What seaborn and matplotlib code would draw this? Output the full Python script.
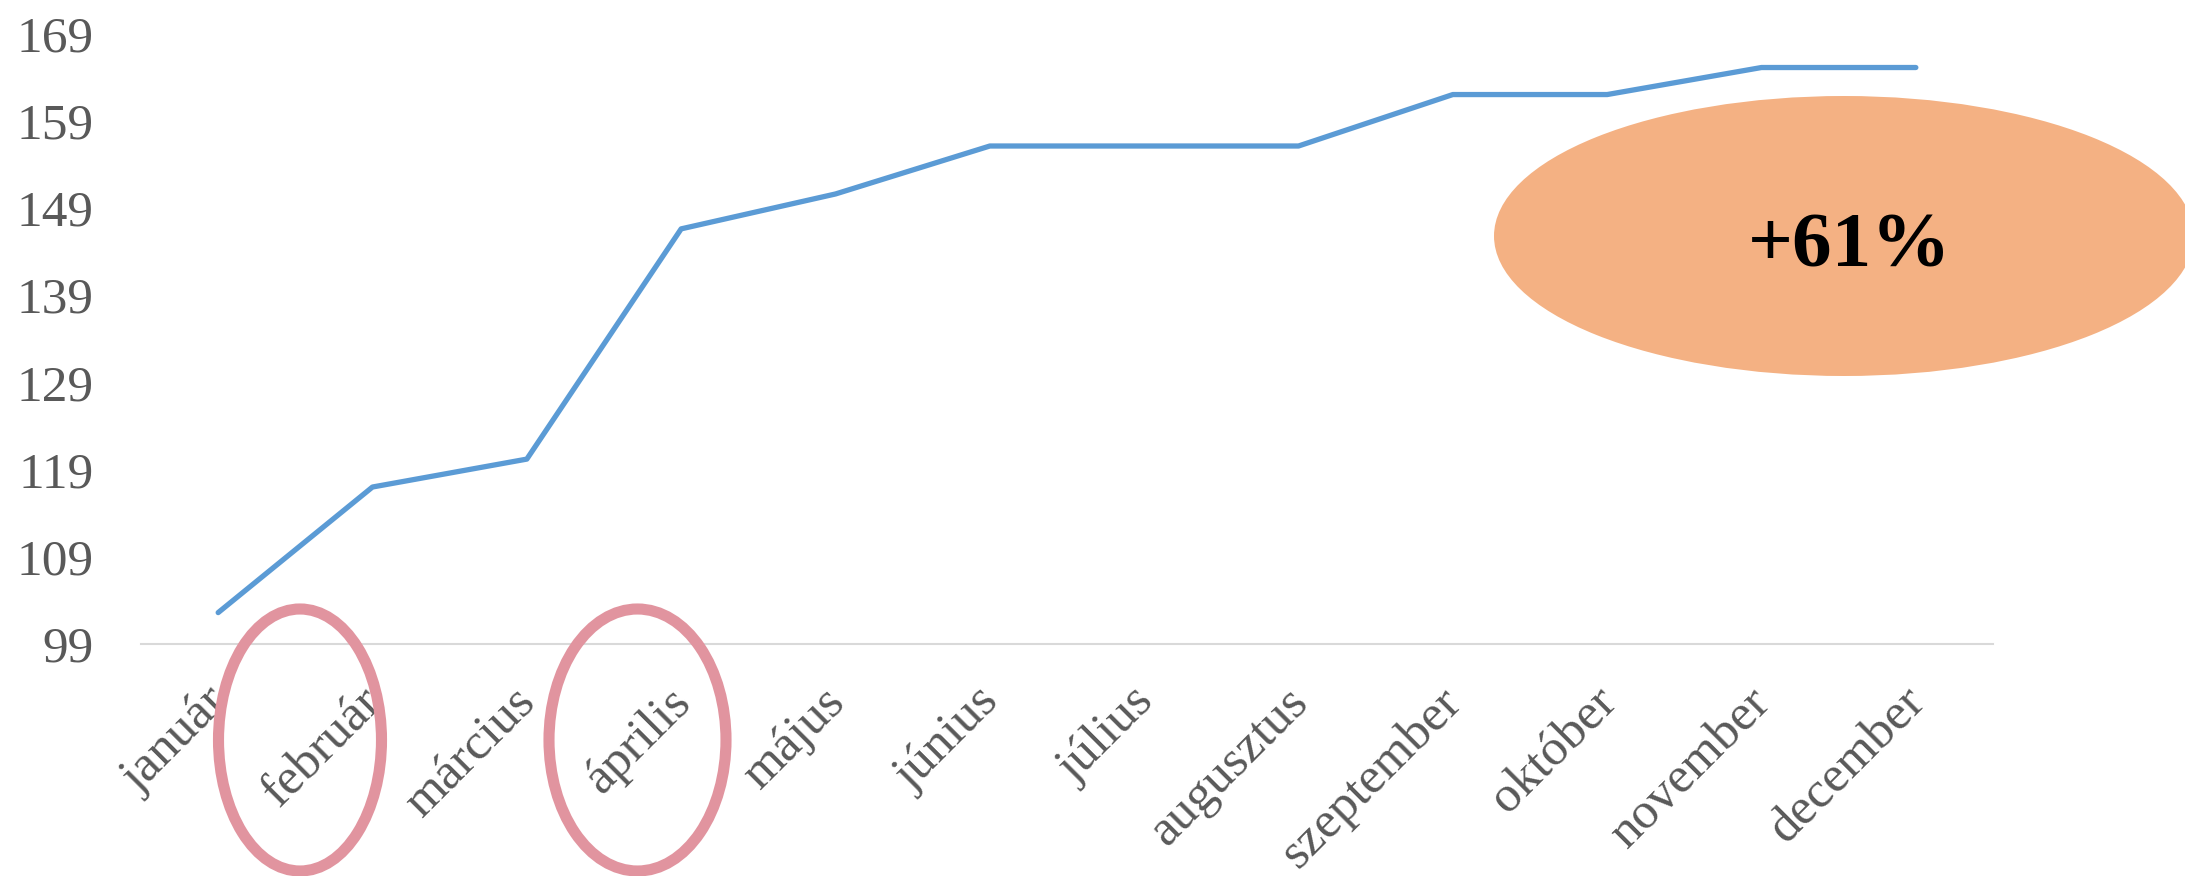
import matplotlib
matplotlib.use("Agg")
import matplotlib.pyplot as plt
import matplotlib.transforms as mtransforms
import seaborn as sns
import pandas as pd
from matplotlib.patches import Ellipse

months = ["január", "február", "március", "április", "május", "június",
          "július", "augusztus", "szeptember", "október", "november", "december"]
values = [102.6, 117.0, 120.2, 146.6, 150.6, 156.1, 156.1, 156.1, 162.0, 162.0, 165.1, 165.1]
y_ticks = [99, 109, 119, 129, 139, 149, 159, 169]
badge_text = "+61%"

sns.set_theme(style="white")
plt.rcParams["font.family"] = ["Liberation Serif", "DejaVu Serif"]

W, H = 2185, 876
fig = plt.figure(figsize=(W / 100, H / 100), dpi=100)
ax = fig.add_axes([141 / W, 1 - 644 / H, (1993 - 141) / W, (644 - 33.5) / H])

df = pd.DataFrame({"month": months, "value": values})
sns.lineplot(data=df, x="month", y="value", sort=False, ax=ax,
             color="#5B9BD5", linewidth=3.8)

ax.set_xlim(-0.5, len(months) - 0.5)
ax.set_ylim(y_ticks[0], y_ticks[-1])
ax.set_yticks(y_ticks)
ax.set_yticklabels([str(t) for t in y_ticks])
ax.set_xticks(range(len(months)))
ax.set_xticklabels(months, rotation=45, ha="right", va="top", rotation_mode="anchor")
ax.set_xlabel("")
ax.set_ylabel("")

for s in ["top", "right", "left"]:
    ax.spines[s].set_visible(False)
ax.spines["bottom"].set_color("#D9D9D9")
ax.spines["bottom"].set_linewidth(1.5)
ax.tick_params(axis="y", length=0, pad=34, labelsize=37, labelcolor="#595959")
ax.tick_params(axis="x", length=0, pad=25, labelsize=37, labelcolor="#595959")
ax.grid(False)

shift = mtransforms.ScaledTranslation(-14 / 100, 0, fig.dpi_scale_trans)
for lbl in ax.get_xticklabels():
    lbl.set_transform(lbl.get_transform() + shift)

def fig_ellipse(cx, cy, w, h, **kw):
    e = Ellipse((cx / W, 1 - cy / H), w / W, h / H, transform=fig.transFigure, **kw)
    fig.add_artist(e)

fig_ellipse(300, 740, 163, 262, facecolor="none", edgecolor="#E1949F", linewidth=8)
fig_ellipse(637.5, 740, 177, 262, facecolor="none", edgecolor="#E1949F", linewidth=8)
fig_ellipse(1844, 236, 700, 280, facecolor="#F4B183", edgecolor="none")
fig.text(1850 / W, 1 - 248 / H, badge_text, ha="center", va="center",
         fontsize=57, fontweight="bold", color="black")

fig.savefig("out.png", dpi=100)
